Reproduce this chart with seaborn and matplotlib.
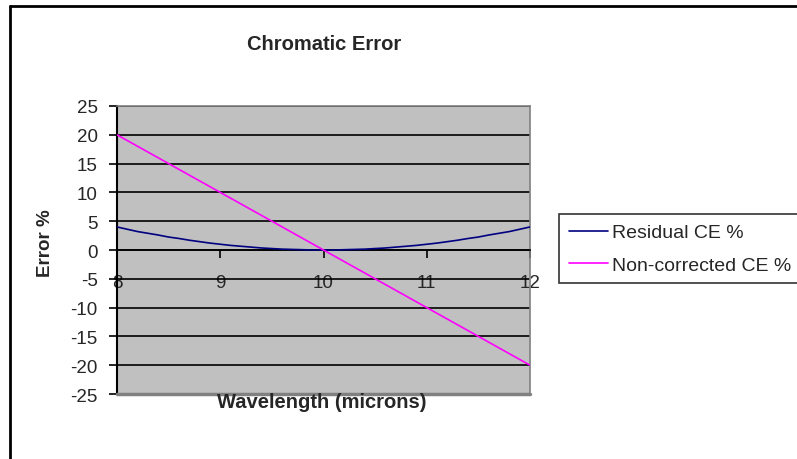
import matplotlib
matplotlib.use("Agg")
import matplotlib.pyplot as plt
from matplotlib.lines import Line2D
import seaborn as sns
import pandas as pd

# Wavelength samples (microns)
wavelength = [8.0, 8.1, 8.2, 8.3, 8.4, 8.5, 8.6, 8.7, 8.8, 8.9,
              9.0, 9.1, 9.2, 9.3, 9.4, 9.5, 9.6, 9.7, 9.8, 9.9,
              10.0, 10.1, 10.2, 10.3, 10.4, 10.5, 10.6, 10.7, 10.8, 10.9,
              11.0, 11.1, 11.2, 11.3, 11.4, 11.5, 11.6, 11.7, 11.8, 11.9, 12.0]

# Chromatic error after correction (%)
residual_ce = [4.0, 3.6, 3.2, 2.9, 2.6, 2.25, 2.0, 1.7, 1.45, 1.2,
               1.0, 0.8, 0.65, 0.5, 0.35, 0.25, 0.15, 0.1, 0.05, 0.0,
               0.0, 0.0, 0.05, 0.1, 0.15, 0.25, 0.35, 0.5, 0.65, 0.8,
               1.0, 1.2, 1.45, 1.7, 2.0, 2.25, 2.6, 2.9, 3.2, 3.6, 4.0]

# Chromatic error without correction (%)
noncorrected_ce = [20, 19, 18, 17, 16, 15, 14, 13, 12, 11,
                   10, 9, 8, 7, 6, 5, 4, 3, 2, 1,
                   0, -1, -2, -3, -4, -5, -6, -7, -8, -9,
                   -10, -11, -12, -13, -14, -15, -16, -17, -18, -19, -20]

series_names = ["Residual CE %", "Non-corrected CE %"]
series_colors = ["#000080", "#FF00FF"]
y_ticks = [25, 20, 15, 10, 5, 0, -5, -10, -15, -20, -25]
x_ticks = [8, 9, 10, 11, 12]

df = pd.DataFrame({
    "Wavelength": wavelength * 2,
    "Error": residual_ce + noncorrected_ce,
    "Series": [series_names[0]] * len(wavelength) + [series_names[1]] * len(wavelength),
})

sns.set_style("white")
plt.rcParams["font.family"] = ["Liberation Sans", "DejaVu Sans"]

W, H = 797, 460
fig = plt.figure(figsize=(W / 100, H / 100), dpi=100)
ax = fig.add_axes([117 / W, 1 - 395 / H, (530 - 117) / W, (395 - 107) / H])
ax.set_facecolor("#C0C0C0")

sns.lineplot(data=df, x="Wavelength", y="Error", hue="Series",
             palette=series_colors, hue_order=series_names,
             linewidth=1.2, ax=ax, legend=False, zorder=3)

ax.set_xlim(8, 12)
ax.set_ylim(-25, 25)
ax.set_yticks(y_ticks)
ax.set_yticklabels([str(v) for v in y_ticks])
ax.set_xticks(x_ticks)
ax.set_xticklabels([str(v) for v in x_ticks])

ax.yaxis.grid(True, color="black", linewidth=1.2, zorder=1)
ax.xaxis.grid(False)
ax.set_axisbelow(True)

# x axis crosses at zero
ax.spines["bottom"].set_position(("data", 0))
ax.spines["bottom"].set_color("black")
ax.spines["bottom"].set_linewidth(1.2)
ax.spines["left"].set_color("black")
ax.spines["left"].set_linewidth(1.5)
for s in ("top", "right"):
    ax.spines[s].set_color("#808080")
    ax.spines[s].set_linewidth(1.2)
ax.axhline(-25, color="#808080", linewidth=2.5, zorder=4, clip_on=False)

ax.tick_params(axis="y", direction="out", length=6, width=1.2, color="black",
               pad=8, labelsize=13.5, left=True)
ax.tick_params(axis="x", direction="out", length=6, width=1.2, color="black",
               pad=11, labelsize=13.5, bottom=True)
ax.set_xlabel("")
ax.set_ylabel("")

fig.text(324 / W, 1 - 44 / H, "Chromatic Error", ha="center", va="center",
         fontsize=14.5, fontweight="bold")
fig.text(322 / W, 1 - 403 / H, "Wavelength (microns)", ha="center", va="center",
         fontsize=14.5, fontweight="bold")

fig.text(45 / W, 1 - 277 / H, "Error %", rotation=90, ha="center",
         va="bottom", fontsize=13.5, fontweight="bold")

handles = [Line2D([], [], color=c, linewidth=1.2) for c in series_colors]
leg = fig.legend(handles, series_names, loc="upper left",
                 bbox_to_anchor=(559 / W, 1 - 215 / H), fontsize=14,
                 frameon=True, fancybox=False, edgecolor="black",
                 handlelength=2.0, handletextpad=0.25, borderpad=0.5,
                 labelspacing=0.75, borderaxespad=0)
leg.get_frame().set_linewidth(1.2)
leg.get_frame().set_facecolor("white")

# outer chart border
fig.add_artist(Line2D([10 / W, 10 / W], [0, 1 - 7 / H], color="black",
                      linewidth=2, transform=fig.transFigure))
fig.add_artist(Line2D([10 / W, 1], [1 - 7 / H, 1 - 7 / H], color="black",
                      linewidth=2, transform=fig.transFigure))

fig.savefig("out.png", dpi=100, facecolor="white")
